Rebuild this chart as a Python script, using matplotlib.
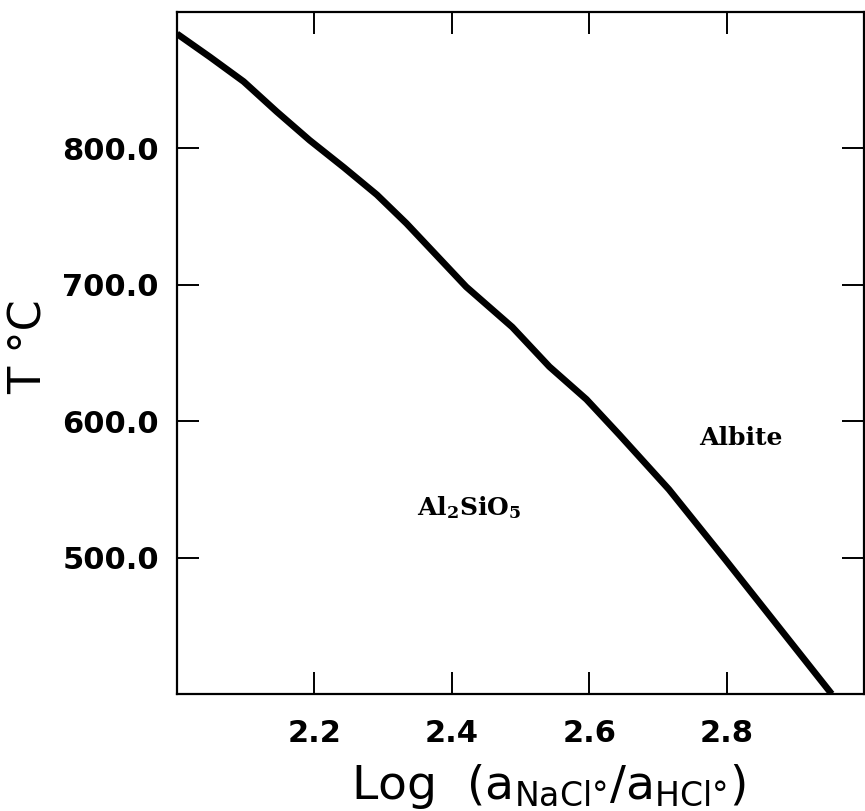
import matplotlib
import matplotlib.pyplot as plt
matplotlib.use('agg')

# Albite / Al2SiO5 boundary
log_ratio = [2.000, 2.048, 2.097, 2.145, 2.193, 2.243, 2.291, 2.334, 2.421,
             2.488, 2.542, 2.596, 2.644, 2.716, 2.799, 2.876, 2.953]
temp_c = [884, 867, 849, 827, 806, 786, 766, 745, 698.5,
          669, 640, 616, 590, 550, 498, 449, 400]

x_ticks = [2.2, 2.4, 2.6, 2.8]
y_ticks = [500, 600, 700, 800]

fig = plt.figure(figsize=(8.65, 8.11), dpi=100)
ax = fig.add_axes([177 / 865, 1 - 694 / 811, 687 / 865, 682 / 811])

ax.plot(log_ratio, temp_c, color='black', linewidth=4.8,
        solid_capstyle='butt', solid_joinstyle='round')

ax.set_xlim(2.0, 3.0)
ax.set_ylim(400, 900)
ax.set_xticks(x_ticks)
ax.set_yticks(y_ticks)
ax.set_xticklabels(['%.1f' % v for v in x_ticks])
ax.set_yticklabels(['%.1f' % v for v in y_ticks])

for s in ax.spines.values():
    s.set_linewidth(1.6)

ax.tick_params(direction='in', length=16, width=1.4, top=True, right=True,
               labelsize=22)
ax.tick_params(axis='x', pad=18)
ax.tick_params(axis='y', pad=13)
for lab in ax.get_xticklabels() + ax.get_yticklabels():
    lab.set_fontweight('bold')

# axis labels
ax.set_xlabel(r'Log  ($\mathregular{a_{NaCl°}/a_{HCl°}}$)', fontsize=34)
ax.xaxis.set_label_coords(0.54, -0.135)
ax.xaxis.label.set_va('center')
ax.set_ylabel('T °C', fontsize=32)
ax.yaxis.set_label_coords(-0.215, 0.51)
ax.yaxis.label.set_va('center')

# region labels
ax.text(2.821, 588, 'Albite', family='DejaVu Serif', fontweight='bold',
        fontsize=18, ha='center', va='center')
ax.text(2.426, 537, r'$\mathregular{Al_2SiO_5}$', family='DejaVu Serif',
        fontweight='bold', fontsize=18, ha='center', va='center')

plt.savefig('out.png', dpi=100)
